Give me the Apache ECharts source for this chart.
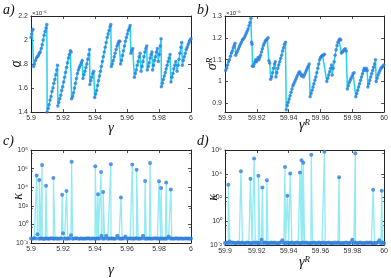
<!DOCTYPE html>
<html><head><meta charset="utf-8">
<script src="https://cdn.jsdelivr.net/npm/echarts@6/dist/echarts.min.js"></script>
<style>html,body{margin:0;padding:0;background:#fff}#c{width:391px;height:278px}</style>
</head><body><div id="c"></div>
<script>
// ---- panel a) sigma vs gamma (values in units of 1e-6)
const gammaA = [5.9000,5.9004,5.9008,5.9012,5.9016,5.9022,5.9028,5.9034,5.9040,5.9046,5.9052,5.9058,5.9064,5.9070,5.9076,5.9082,5.9088,5.9094,5.9099,
5.9101,5.9107,5.9113,5.9119,5.9125,5.9131,5.9137,5.9143,5.9149,5.9155,5.9161,5.9166,
5.9168,5.9174,5.9180,5.9186,5.9192,5.9198,5.9204,5.9210,5.9216,5.9222,5.9228,5.9234,5.9240,5.9246,5.9251,
5.9254,5.9260,5.9266,5.9272,5.9278,5.9284,5.9290,5.9296,5.9302,5.9308,5.9314,5.9320,
5.9325,5.9331,5.9337,5.9343,5.9349,5.9355,5.9361,5.9366,
5.9368,5.9374,5.9380,5.9386,5.9392,
5.9398,5.9404,5.9410,5.9416,5.9422,5.9428,5.9434,5.9440,5.9446,5.9452,5.9458,5.9464,5.9470,5.9476,5.9482,5.9488,5.9494,5.9499,
5.9502,5.9508,5.9514,5.9520,5.9526,5.9532,5.9538,5.9544,5.9550,5.9555,
5.9560,5.9566,5.9572,5.9578,5.9584,5.9590,5.9596,5.9602,5.9608,5.9614,5.9620,
5.9624,5.9630,5.9636,
5.9646,5.9652,5.9658,5.9664,5.9670,5.9676,5.9682,
5.9688,5.9694,5.9700,5.9706,5.9712,5.9718,5.9723,
5.9727,5.9733,5.9739,5.9745,5.9751,5.9756,
5.9760,5.9766,5.9772,5.9778,5.9784,5.9790,
5.9796,5.9802,5.9808,5.9813,
5.9815,5.9821,5.9827,5.9833,5.9839,5.9845,5.9851,5.9857,5.9863,5.9869,
5.9875,5.9881,5.9887,5.9893,5.9899,5.9905,
5.9913,5.9919,5.9925,5.9931,5.9937,5.9942,
5.9946,5.9952,5.9958,5.9964,5.9970,5.9976,5.9982,5.9988,5.9994,6.0000];
const sigmaA = [2.02,2.05,2.08,2.09,1.78,1.80,1.83,1.85,1.86,1.87,1.89,1.90,1.93,1.96,2.00,2.04,2.07,2.10,2.13,
1.40,1.43,1.46,1.50,1.53,1.57,1.60,1.64,1.67,1.71,1.75,1.79,
1.45,1.48,1.51,1.54,1.58,1.61,1.65,1.69,1.73,1.77,1.81,1.85,1.88,1.91,1.90,
1.51,1.53,1.56,1.60,1.64,1.68,1.72,1.75,1.77,1.79,1.81,1.83,
1.68,1.71,1.74,1.77,1.80,1.84,1.88,1.92,
1.63,1.66,1.69,1.72,1.74,
1.52,1.55,1.58,1.62,1.66,1.70,1.74,1.78,1.82,1.86,1.90,1.94,1.98,2.02,2.05,2.08,2.11,2.13,
1.78,1.80,1.83,1.86,1.89,1.92,1.95,1.97,1.99,1.99,
1.80,1.83,1.87,1.91,1.95,1.99,2.02,2.05,2.08,2.10,2.12,
1.89,1.91,1.93,
1.69,1.72,1.75,1.79,1.82,1.86,1.89,
1.74,1.78,1.82,1.86,1.90,1.93,1.95,
1.75,1.78,1.81,1.85,1.88,1.90,
1.75,1.79,1.83,1.86,1.90,1.93,
1.82,1.88,1.95,2.01,
1.61,1.64,1.67,1.70,1.73,1.76,1.79,1.82,1.85,1.88,
1.65,1.69,1.72,1.76,1.79,1.82,
1.74,1.79,1.84,1.89,1.94,1.98,
1.79,1.83,1.86,1.89,1.92,1.94,1.96,1.98,2.00,2.01];

// ---- panel b) sigma^R vs gamma^R (units of 1e-6)
const gammaB = [59.9004,59.9010,59.9016,59.9022,59.9028,59.9034,59.9040,59.9046,59.9052,59.9058,59.9063,
59.9067,59.9073,59.9079,59.9085,59.9091,59.9097,59.9103,59.9109,59.9115,59.9121,59.9127,59.9133,59.9139,59.9145,59.9151,59.9157,59.9163,
59.9167,59.9170,59.9173,59.9178,59.9183,59.9188,59.9193,59.9198,59.9203,59.9208,59.9213,59.9218,59.9223,59.9229,59.9235,59.9241,59.9247,59.9253,59.9259,59.9265,59.9271,
59.9276,59.9281,
59.9287,59.9293,59.9299,59.9305,59.9311,59.9316,
59.9320,59.9326,59.9332,59.9338,59.9344,59.9350,59.9356,59.9362,59.9368,59.9374,59.9380,
59.9385,59.9391,59.9397,59.9403,59.9409,59.9415,59.9421,59.9427,59.9433,59.9439,59.9445,59.9451,59.9457,59.9463,59.9469,
59.9475,59.9481,59.9487,59.9493,59.9499,59.9505,59.9511,59.9517,59.9523,59.9529,
59.9535,59.9541,59.9547,59.9553,59.9559,59.9565,59.9571,59.9577,59.9583,59.9589,59.9595,59.9601,59.9607,59.9613,59.9619,59.9625,
59.9640,59.9646,59.9652,59.9658,59.9664,59.9670,
59.9674,59.9680,59.9686,59.9692,59.9698,59.9704,59.9710,59.9716,59.9722,59.9728,
59.9732,59.9738,59.9744,59.9750,59.9756,59.9762,
59.9769,59.9775,59.9781,59.9787,59.9793,59.9799,59.9805,59.9811,
59.9822,59.9828,59.9834,59.9840,59.9846,59.9852,59.9858,59.9864,59.9870,59.9876,59.9882,59.9888,59.9894,
59.9898,59.9904,59.9910,59.9916,59.9922,59.9928,59.9934,59.9940,59.9946,
59.9950,59.9956,59.9962,59.9968,59.9974,59.9980,59.9986,59.9992,59.9998];
const sigmaB = [1.050,1.060,1.075,1.090,1.100,1.115,1.130,1.140,1.155,1.165,1.175,
1.120,1.130,1.140,1.150,1.160,1.170,1.180,1.190,1.195,1.200,1.210,1.220,1.230,1.240,1.255,1.270,1.290,
1.180,1.170,1.070,1.070,1.080,1.090,1.100,1.090,1.100,1.110,1.100,1.110,1.120,1.135,1.150,1.165,1.175,1.185,1.190,1.195,1.200,
1.095,1.085,
1.010,1.020,1.040,1.060,1.080,1.090,
1.020,1.040,1.060,1.075,1.090,1.105,1.120,1.140,1.155,1.170,1.180,
0.870,0.890,0.905,0.920,0.935,0.950,0.965,0.980,0.990,1.000,1.010,1.020,1.030,1.040,1.045,
1.035,1.025,1.030,1.020,1.030,1.040,1.050,1.060,1.070,1.080,
0.930,0.945,0.960,0.975,0.990,1.005,1.020,1.040,1.060,1.080,1.100,1.110,1.115,1.120,1.120,1.125,
1.000,1.015,1.030,1.045,1.060,1.075,
1.030,1.060,1.090,1.120,1.145,1.165,1.180,1.190,1.195,1.190,
1.130,1.135,1.140,1.145,1.150,1.140,
0.965,0.980,0.995,1.005,1.015,1.025,1.035,1.040,
0.930,0.945,0.960,0.975,0.990,1.005,1.020,1.035,1.050,1.060,1.050,1.060,1.050,
0.975,0.990,1.005,1.020,1.035,1.050,1.065,1.080,1.100,
1.000,1.015,1.030,1.040,1.050,1.060,1.065,1.070,1.075];

// ---- panel c) kappa vs gamma: baseline samples (grid 5.900..6.000 step 0.001) + spikes
const kappaBaseC = [0.030,0.028,0.032,0.030,0.090,0.029,0.031,0.030,0.027,0.030,
0.031,0.029,0.030,0.032,0.028,0.030,0.030,0.029,0.031,0.030,
0.110,0.030,0.028,0.031,0.030,0.070,0.029,0.030,0.032,0.030,
0.028,0.030,0.031,0.029,0.030,0.030,0.032,0.028,0.030,0.031,
0.029,0.030,0.030,0.031,0.060,0.029,0.030,0.060,0.028,0.030,
0.031,0.030,0.029,0.030,0.060,0.030,0.028,0.031,0.030,0.050,
0.029,0.030,0.031,0.030,0.028,0.030,0.032,0.029,0.030,0.031,
0.060,0.030,0.029,0.030,0.031,0.028,0.030,0.030,0.032,0.029,
0.030,0.031,0.029,0.030,0.028,0.030,0.050,0.031,0.030,0.029,
0.030,0.032,0.028,0.030,0.031,0.029,0.030,0.030,0.031,0.029,0.030];
const gammaSpikeC = [5.9036,5.9052,5.9069,5.9094,5.9140,5.9195,5.9222,5.9254,5.9402,5.9419,5.9438,5.9451,5.9499,5.9562,5.9633,5.9660,5.9713,5.9744,5.9800,5.9813,5.9845,5.9874];
const kappaSpikeC = [1.8e5,6e4,2.5e6,1.4e4,1e5,1.5e3,4e3,5.6e6,1.8e6,1.7e3,4.4e5,3e3,3e6,8e2,2.7e6,7.6e5,4.6e4,4e6,4.3e4,8e3,3.2e4,5.8e3];

// ---- panel d) kappa vs gamma^R: baseline samples (grid 59.900..60.000 step 0.001) + spikes
const kappaBaseD = [0.015,0.016,0.014,0.020,0.015,0.016,0.015,0.014,0.016,0.015,
0.015,0.016,0.014,0.015,0.016,0.015,0.015,0.014,0.016,0.015,
0.016,0.015,0.014,0.028,0.015,0.016,0.015,0.015,0.014,0.016,
0.015,0.016,0.015,0.014,0.015,0.016,0.025,0.015,0.014,0.016,
0.015,0.015,0.016,0.014,0.015,0.016,0.015,0.015,0.014,0.016,
0.015,0.016,0.015,0.014,0.015,0.015,0.016,0.015,0.014,0.016,
0.015,0.015,0.016,0.014,0.015,0.016,0.015,0.015,0.014,0.016,
0.015,0.016,0.015,0.014,0.015,0.015,0.016,0.015,0.014,0.016,
0.028,0.015,0.016,0.014,0.015,0.016,0.015,0.015,0.014,0.016,
0.015,0.016,0.015,0.014,0.015,0.015,0.016,0.025,0.014,0.016,0.015];
const gammaSpikeD = [59.9021,59.9100,59.9160,59.9183,59.9210,59.9235,59.9263,59.9377,59.9392,59.9410,59.9471,59.9481,59.9492,59.9542,59.9625,59.9717,59.9819,59.9931,59.9985];
const kappaSpikeD = [1.2e3,1.6e4,3.8e3,1.9e5,6.9e3,7e2,2.8e3,3.7e4,1.4e2,1.07e4,1.3e4,1.4e5,8.6e4,4e5,7.2e5,5e3,5.2e5,4.6e2,3.7e2];

// tick labels
const xTicksA = [5.9,5.92,5.94,5.96,5.98,6];
const xTicksB = [59.9,59.92,59.94,59.96,59.98,60];
const yTicksA = [1.4,1.6,1.8,2,2.2];
const yTicksB = [0.9,1,1.1,1.2,1.3];

function pairs(xs, ys){ return xs.map((x,i)=>[x, ys[i]]); }
function merged(x0, step, base, sx, sy){
  const pts = base.map((v,i)=>[+(x0 + i*step).toFixed(4), v]);
  sx.forEach((x,i)=>pts.push([x, sy[i]]));
  pts.sort((a,b)=>a[0]-b[0]);
  return pts;
}

const FR = '#262626';
const SANS = 'Liberation Sans, Arial, Helvetica, sans-serif';
const SERIF = 'Liberation Serif, DejaVu Serif, serif';
const lbl = {fontFamily: SANS, fontSize: 7, color: '#333'};
const supMap = {'-':'⁻','0':'⁰','1':'¹','2':'²','3':'³','4':'⁴','5':'⁵','6':'⁶','7':'⁷','8':'⁸','9':'⁹'};
function sup(n){ return String(n).split('').map(c=>supMap[c]).join(''); }
const nameStyle = {
  fontFamily: SERIF, fontStyle: 'italic', fontSize: 14, color: '#111',
  rich: {
    b: {fontFamily: SERIF, fontStyle: 'italic', fontSize: 14, color: '#111'},
    s: {fontFamily: SERIF, fontStyle: 'italic', fontSize: 9, color: '#111', verticalAlign: 'top'}
  }
};

const grids = [
  {left: 31, top: 16, width: 160, height: 96},
  {left: 225, top: 16, width: 160, height: 96},
  {left: 31, top: 150, width: 160, height: 95},
  {left: 225, top: 150, width: 160, height: 95}
];

function axLine(){ return {show: true, onZero: false, lineStyle: {color: FR, width: 1}}; }
function axTick(cv){ const t = {show: true, inside: true, length: 3, lineStyle: {color: FR, width: 0.8}}; if (cv) t.customValues = cv; return t; }
const minor = {show: true, splitNumber: 2, length: 2, lineStyle: {color: FR, width: 0.6}};

const xAxes = [], yAxes = [];
function addX(gi, ticks, name, gap){
  const min = ticks[0], max = ticks[ticks.length-1];
  xAxes.push({type: 'value', gridIndex: gi, min, max, position: 'bottom',
    axisLine: axLine(), axisTick: axTick(ticks), splitLine: {show: false},
    axisLabel: Object.assign({}, lbl, {margin: 3, customValues: ticks, formatter: v => String(+(+v).toFixed(2))}),
    name, nameLocation: 'middle', nameGap: gap, nameMoveOverlap: false, nameTextStyle: nameStyle});
  xAxes.push({type: 'value', gridIndex: gi, min, max, position: 'top',
    axisLine: axLine(), axisTick: axTick(ticks), splitLine: {show: false}, axisLabel: {show: false}});
}
function addY(gi, cfg, name, gap){
  const base = {gridIndex: gi, splitLine: {show: false}, axisLine: axLine()};
  yAxes.push(Object.assign({}, base, cfg.main, {position: 'left',
    name, nameLocation: 'middle', nameGap: gap, nameMoveOverlap: false, nameTextStyle: nameStyle}));
  yAxes.push(Object.assign({}, base, cfg.mirror, {position: 'right', axisLabel: {show: false}}));
}

addX(0, xTicksA, 'γ', 9);
addX(1, xTicksB, '{b|γ}{s|R}', 6);
addX(2, xTicksA, 'γ', 20);
addX(3, xTicksB, '{b|γ}{s|R}', 10);

addY(0, {
  main: {type: 'value', min: 1.4, max: 2.2, axisTick: axTick(yTicksA), axisLabel: Object.assign({}, lbl, {margin: 3, customValues: yTicksA, formatter: v => String(+(+v).toFixed(1))})},
  mirror: {type: 'value', min: 1.4, max: 2.2, axisTick: axTick(yTicksA)}
}, 'σ', 8);
addY(1, {
  main: {type: 'value', min: 0.86, max: 1.3, axisTick: axTick(yTicksB), axisLabel: Object.assign({}, lbl, {margin: 3, customValues: yTicksB, formatter: v => String(+(+v).toFixed(1))})},
  mirror: {type: 'value', min: 0.86, max: 1.3, axisTick: axTick(yTicksB)}
}, '{b|σ}{s|R}', 6);
const logLbl = Object.assign({}, lbl, {margin: 3, formatter: v => '10' + sup(Math.round(Math.log10(v)))});
addY(2, {
  main: {type: 'log', logBase: 10, min: 0.01, max: 1e8, interval: 2, axisTick: axTick(), minorTick: minor, axisLabel: logLbl},
  mirror: {type: 'log', logBase: 10, min: 0.01, max: 1e8, interval: 2, axisTick: axTick(), minorTick: minor}
}, 'κ', 6);
addY(3, {
  main: {type: 'log', logBase: 10, min: 0.01, max: 1e6, interval: 2, axisTick: axTick(), minorTick: minor, axisLabel: logLbl},
  mirror: {type: 'log', logBase: 10, min: 0.01, max: 1e6, interval: 2, axisTick: axTick(), minorTick: minor}
}, 'κ', 5);

const DOT = '#2e7fe0';
function lineOnly(ax, data, lineColor, width){
  return {type: 'line', xAxisIndex: ax*2, yAxisIndex: ax*2, data, showSymbol: false,
    lineStyle: {color: lineColor, width: width}, itemStyle: {color: lineColor},
    emphasis: {disabled: true}, animation: false, silent: true, clip: true, z: 2};
}
function dots(ax, data, size){
  return {type: 'scatter', xAxisIndex: ax*2, yAxisIndex: ax*2, data, symbol: 'circle', symbolSize: size,
    itemStyle: {color: DOT}, emphasis: {disabled: true}, animation: false, silent: true, clip: true, z: 3};
}
const dataA = pairs(gammaA, sigmaA), dataB = pairs(gammaB, sigmaB);
const dataC = merged(5.9, 0.001, kappaBaseC, gammaSpikeC, kappaSpikeC);
const dataD = merged(59.9, 0.001, kappaBaseD, gammaSpikeD, kappaSpikeD);

const chart = echarts.init(document.getElementById('c'));
chart.setOption({
  backgroundColor: '#fff',
  animation: false,
  grid: grids,
  xAxis: xAxes,
  yAxis: yAxes,
  series: [
    lineOnly(0, dataA, '#22d2f0', 1.5), dots(0, dataA, 3.5),
    lineOnly(1, dataB, '#22d2f0', 1.5), dots(1, dataB, 3.5),
    lineOnly(2, dataC, '#92eaf2', 1.3), dots(2, dataC, 4),
    lineOnly(3, dataD, '#92eaf2', 1.3), dots(3, dataD, 4)
  ],
  graphic: [
    {type: 'text', left: 3, top: 3, style: {text: 'a)', font: 'italic 14px ' + SERIF, fill: '#111'}},
    {type: 'text', left: 197, top: 3, style: {text: 'b)', font: 'italic 14px ' + SERIF, fill: '#111'}},
    {type: 'text', left: 3, top: 134, style: {text: 'c)', font: 'italic 14px ' + SERIF, fill: '#111'}},
    {type: 'text', left: 197, top: 134, style: {text: 'd)', font: 'italic 14px ' + SERIF, fill: '#111'}},
    {type: 'text', left: 32, top: 10, style: {text: '×10⁻⁶', font: '6px ' + SANS, fill: '#333'}},
    {type: 'text', left: 226, top: 10, style: {text: '×10⁻⁶', font: '6px ' + SANS, fill: '#333'}}
  ]
});
</script>
</body></html>
